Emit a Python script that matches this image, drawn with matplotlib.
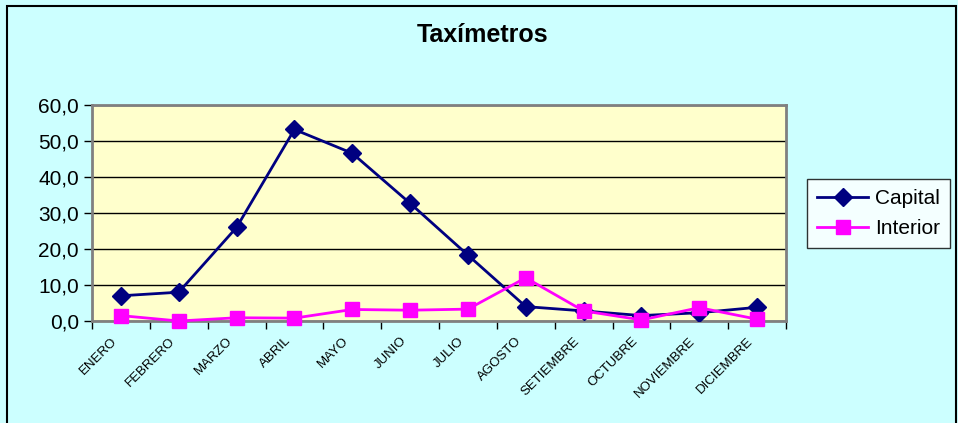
import matplotlib.pyplot as plt
from matplotlib.patches import Rectangle
from matplotlib.ticker import FuncFormatter, FixedLocator
from matplotlib.transforms import ScaledTranslation

# datos
meses = ["ENERO", "FEBRERO", "MARZO", "ABRIL", "MAYO", "JUNIO", "JULIO",
         "AGOSTO", "SETIEMBRE", "OCTUBRE", "NOVIEMBRE", "DICIEMBRE"]
capital = [7.0, 8.0, 26.0, 53.2, 46.6, 32.7, 18.3, 4.0, 2.8, 1.5, 2.3, 3.8]
interior = [1.5, 0.0, 0.9, 0.8, 3.2, 3.0, 3.3, 12.0, 2.8, 0.3, 3.7, 0.5]
y_ticks = [0, 10, 20, 30, 40, 50, 60]

plt.rcParams['font.family'] = ['Liberation Sans', 'DejaVu Sans']

fig = plt.figure(figsize=(9.58, 4.23), dpi=100)
fig.patch.set_facecolor('#CCFFFF')
# marco negro de la figura
fig.patches.append(Rectangle((7 / 958, -0.05), 949 / 958, 1.05 - 6 / 423,
                             transform=fig.transFigure, fill=False,
                             edgecolor='black', linewidth=1.5))

ax = fig.add_axes([92 / 958, 1 - 321 / 423, (786 - 92) / 958, (321 - 105) / 423])
ax.set_facecolor('#FFFFCC')

x = list(range(len(meses)))
ax.plot(x, capital, color='#000080', lw=2, marker='D', ms=9,
        mec='#000080', label='Capital', zorder=3)
ax.plot(x, interior, color='#FF00FF', lw=2, marker='s', ms=10.5,
        mec='#FF00FF', label='Interior', zorder=3, clip_on=False)

ax.set_xlim(-0.5, len(meses) - 0.5)
ax.set_ylim(0, 60)
ax.set_yticks(y_ticks)
ax.yaxis.set_major_formatter(FuncFormatter(lambda v, p: f"{v:.1f}".replace('.', ',')))
ax.yaxis.grid(True, color='black', lw=1)
ax.set_axisbelow(True)

# ticks de categoria entre meses, etiquetas centradas
ax.xaxis.set_major_locator(FixedLocator([i - 0.5 for i in range(len(meses) + 1)]))
ax.set_xticklabels([])
ax.set_xticks(x, minor=True)
ax.set_xticklabels(meses, minor=True, rotation=45, ha='right',
                   rotation_mode='anchor', fontsize=9.5)
ax.tick_params(axis='x', which='minor', length=0, pad=10)
ax.tick_params(axis='x', which='major', length=6, width=1, color='black')
ax.tick_params(axis='y', length=6, width=1, labelsize=15)
shift = ScaledTranslation(-10 / 100, 0, fig.dpi_scale_trans)
for lab in ax.get_xticklabels(minor=True):
    lab.set_transform(lab.get_transform() + shift)

for s in ax.spines.values():
    s.set_color('#808080')
    s.set_linewidth(2)

fig.text(483 / 958, 1 - 35 / 423, "Taxímetros", ha='center', va='center',
         fontsize=18, fontweight='bold')

leg = ax.legend(loc='upper left', bbox_to_anchor=(807 / 958, 1 - 179 / 423),
                bbox_transform=fig.transFigure, fontsize=15, frameon=True,
                fancybox=False, edgecolor='black', handlelength=2.45,
                borderpad=0.5, labelspacing=0.5, handletextpad=0.3,
                borderaxespad=0)
leg.get_frame().set_linewidth(1)

fig.savefig('out.png', dpi=100, facecolor=fig.get_facecolor())
